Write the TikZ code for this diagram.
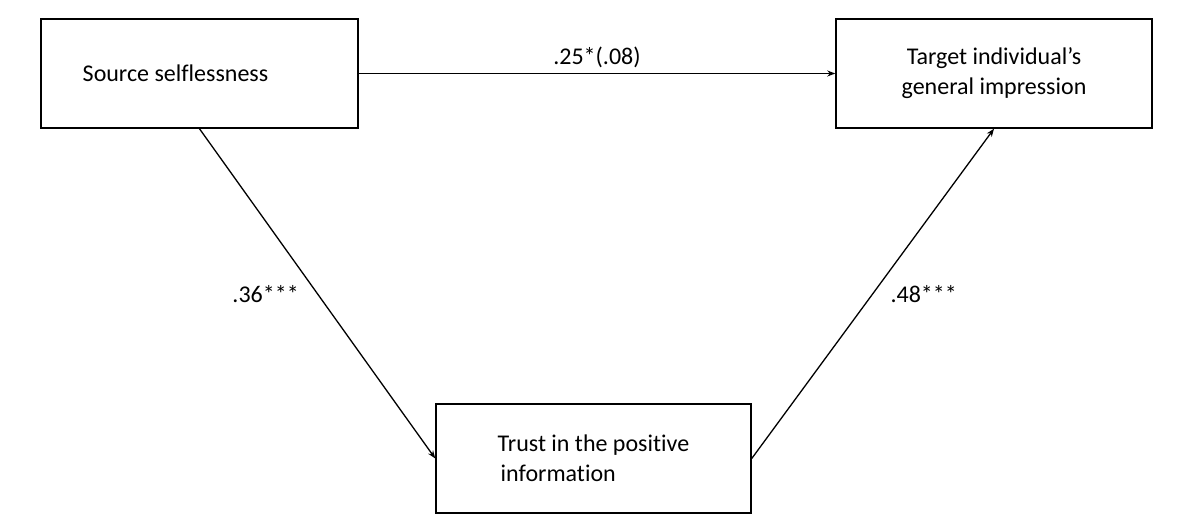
\documentclass[tikz,border=0pt]{standalone}
\usepackage{fontspec}
\setmainfont{Carlito}[Ligatures=NoCommon]
\usetikzlibrary{arrows.meta}

\begin{document}
\begin{tikzpicture}[x=1pt,y=-1pt]
\tikzstyle{every node}=[inner sep=0pt, font=\fontsize{24}{30}\selectfont]
\tikzstyle{var}=[draw, line width=1.5pt, minimum height=109pt]
\tikzstyle{path}=[line width=1.3pt, -{Stealth[length=8pt,width=6pt]}]
\useasboundingbox (0,0) rectangle (1181,529);
\draw (199.5,73.5) node (src) [var, minimum width=317pt] {Source selflessness\hspace*{48pt}};
\draw (994,73.5) node (tgt) [var, minimum width=316pt, align=center] {Target individual’s\\general impression};
\draw (593.5,458.5) node (trust) [var, minimum width=315pt, align=left] {Trust in the positive\\\hspace*{3pt}information};
\draw [path] (src.east) -- node (c) [midway, above=5pt] {.25*(.08)} (tgt.west);
\draw [path] (src.south) -- node (a) [midway, left=18pt] {.36***} (trust.west);
\draw [path] (trust.east) -- node (b) [midway, right=17pt] {.48***} (tgt.south);
\end{tikzpicture}
\end{document}
